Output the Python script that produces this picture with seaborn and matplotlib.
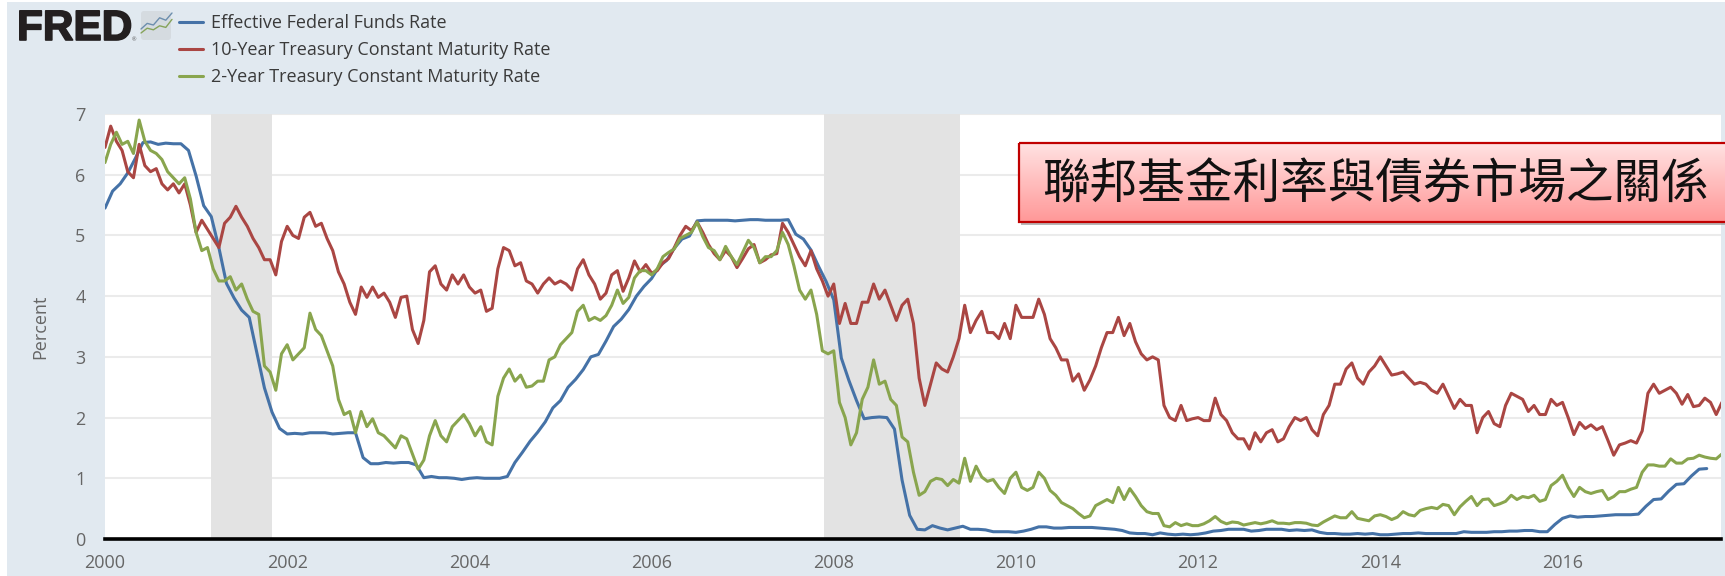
"""FRED chart: federal funds rate against 2-year and 10-year treasury yields."""

import matplotlib
matplotlib.use("Agg")
import matplotlib.patheffects as pe
import matplotlib.pyplot as plt
import numpy as np
import pandas as pd
import seaborn as sns
from matplotlib.patches import FancyBboxPatch, Rectangle

# monthly readings from Jan 2000
FED_FUNDS = [
    5.45, 5.73, 5.85, 6.03, 6.27, 6.53, 6.54, 6.50, 6.52, 6.51, 6.51, 6.40,
    5.98, 5.49, 5.31, 4.80, 4.21, 3.97, 3.77, 3.65, 3.07, 2.49, 2.09, 1.82,
    1.73, 1.74, 1.73, 1.75, 1.75, 1.75, 1.73, 1.74, 1.75, 1.75, 1.34, 1.24,
    1.24, 1.26, 1.25, 1.26, 1.26, 1.22, 1.01, 1.03, 1.01, 1.01, 1.00, 0.98,
    1.00, 1.01, 1.00, 1.00, 1.00, 1.03, 1.26, 1.43, 1.61, 1.76, 1.93, 2.16,
    2.28, 2.50, 2.63, 2.79, 3.00, 3.04, 3.26, 3.50, 3.62, 3.78, 4.00, 4.16,
    4.29, 4.49, 4.59, 4.79, 4.94, 4.99, 5.24, 5.25, 5.25, 5.25, 5.25, 5.24,
    5.25, 5.26, 5.26, 5.25, 5.25, 5.25, 5.26, 5.02, 4.94, 4.76, 4.49, 4.24,
    3.94, 2.98, 2.61, 2.28, 1.98, 2.00, 2.01, 2.00, 1.81, 0.97, 0.39, 0.16,
    0.15, 0.22, 0.18, 0.15, 0.18, 0.21, 0.16, 0.16, 0.15, 0.12, 0.12, 0.12,
    0.11, 0.13, 0.16, 0.20, 0.20, 0.18, 0.18, 0.19, 0.19, 0.19, 0.19, 0.18,
    0.17, 0.16, 0.14, 0.10, 0.09, 0.09, 0.07, 0.10, 0.08, 0.07, 0.08, 0.07,
    0.08, 0.10, 0.13, 0.14, 0.16, 0.16, 0.16, 0.13, 0.14, 0.16, 0.16, 0.16,
    0.14, 0.15, 0.14, 0.15, 0.11, 0.09, 0.09, 0.08, 0.08, 0.09, 0.08, 0.09,
    0.07, 0.07, 0.08, 0.09, 0.09, 0.10, 0.09, 0.09, 0.09, 0.09, 0.09, 0.12,
    0.11, 0.11, 0.11, 0.12, 0.12, 0.13, 0.13, 0.14, 0.14, 0.12, 0.12, 0.24,
    0.34, 0.38, 0.36, 0.37, 0.37, 0.38, 0.39, 0.40, 0.40, 0.40, 0.41, 0.54,
    0.65, 0.66, 0.79, 0.90, 0.91, 1.04, 1.15, 1.16,
]

# sixteen readings per year from Jan 2000
TREASURY_10Y = [
    6.45, 6.80, 6.55, 6.40, 6.05, 5.95, 6.50, 6.15, 6.05, 6.10, 5.85, 5.75, 5.85, 5.70, 5.85, 5.50,
    5.05, 5.25, 5.10, 4.95, 4.80, 5.20, 5.30, 5.48, 5.30, 5.15, 4.95, 4.80, 4.60, 4.60, 4.35, 4.90,
    5.15, 5.00, 4.95, 5.30, 5.38, 5.15, 5.20, 4.95, 4.75, 4.40, 4.20, 3.90, 3.70, 4.15, 3.98, 4.15,
    3.98, 4.05, 3.90, 3.65, 3.98, 4.00, 3.45, 3.22, 3.60, 4.40, 4.50, 4.20, 4.10, 4.35, 4.20, 4.35,
    4.15, 4.05, 4.10, 3.75, 3.80, 4.45, 4.80, 4.75, 4.50, 4.55, 4.25, 4.20, 4.05, 4.20, 4.30, 4.20,
    4.25, 4.20, 4.10, 4.45, 4.60, 4.35, 4.20, 3.95, 4.05, 4.35, 4.42, 4.08, 4.30, 4.58, 4.40, 4.52,
    4.38, 4.42, 4.55, 4.62, 4.80, 5.00, 5.15, 5.08, 5.22, 5.05, 4.85, 4.70, 4.60, 4.75, 4.65, 4.47,
    4.62, 4.78, 4.85, 4.55, 4.60, 4.68, 4.70, 5.20, 5.05, 4.85, 4.65, 4.50, 4.75, 4.45, 4.25, 4.00,
    4.20, 3.55, 3.88, 3.55, 3.55, 3.90, 3.90, 4.20, 3.95, 4.10, 3.85, 3.60, 3.85, 3.95, 3.55, 2.65,
    2.20, 2.55, 2.90, 2.80, 2.75, 3.00, 3.30, 3.85, 3.40, 3.60, 3.75, 3.40, 3.40, 3.30, 3.55, 3.30,
    3.85, 3.65, 3.65, 3.65, 3.95, 3.70, 3.30, 3.15, 2.95, 2.95, 2.60, 2.72, 2.45, 2.62, 2.85, 3.15,
    3.40, 3.40, 3.65, 3.35, 3.55, 3.25, 3.05, 2.95, 3.00, 2.95, 2.20, 2.00, 1.95, 2.20, 1.95, 1.98,
    2.00, 1.95, 1.95, 2.32, 2.05, 1.95, 1.75, 1.65, 1.65, 1.48, 1.75, 1.60, 1.75, 1.80, 1.60, 1.65,
    1.85, 2.00, 1.95, 2.00, 1.80, 1.70, 2.05, 2.20, 2.55, 2.55, 2.80, 2.90, 2.65, 2.55, 2.75, 2.85,
    3.00, 2.85, 2.70, 2.72, 2.75, 2.65, 2.55, 2.58, 2.55, 2.45, 2.40, 2.55, 2.35, 2.15, 2.30, 2.20,
    2.20, 1.75, 2.00, 2.10, 1.90, 1.85, 2.20, 2.40, 2.35, 2.30, 2.10, 2.20, 2.05, 2.05, 2.30, 2.20,
    2.25, 2.00, 1.72, 1.92, 1.82, 1.88, 1.80, 1.85, 1.62, 1.38, 1.55, 1.58, 1.62, 1.58, 1.78, 2.40,
    2.55, 2.40, 2.45, 2.50, 2.40, 2.22, 2.38, 2.18, 2.20, 2.32, 2.25, 2.05, 2.25,
]

TREASURY_2Y = [
    6.20, 6.50, 6.70, 6.50, 6.55, 6.35, 6.90, 6.55, 6.40, 6.35, 6.25, 6.05, 5.95, 5.85, 5.95, 5.60,
    5.05, 4.75, 4.80, 4.45, 4.25, 4.25, 4.32, 4.10, 4.20, 3.95, 3.75, 3.70, 2.85, 2.75, 2.45, 3.05,
    3.20, 2.95, 3.05, 3.15, 3.72, 3.45, 3.35, 3.10, 2.85, 2.30, 2.05, 2.10, 1.75, 2.10, 1.85, 1.98,
    1.75, 1.70, 1.60, 1.50, 1.70, 1.65, 1.40, 1.15, 1.30, 1.70, 1.95, 1.70, 1.60, 1.85, 1.95, 2.05,
    1.90, 1.70, 1.85, 1.60, 1.55, 2.35, 2.65, 2.80, 2.60, 2.70, 2.50, 2.52, 2.60, 2.60, 2.95, 3.00,
    3.20, 3.30, 3.40, 3.75, 3.85, 3.60, 3.65, 3.60, 3.68, 3.85, 4.10, 3.88, 3.98, 4.30, 4.42, 4.42,
    4.35, 4.45, 4.65, 4.72, 4.78, 4.95, 5.00, 5.05, 5.22, 4.98, 4.80, 4.75, 4.60, 4.82, 4.65, 4.52,
    4.72, 4.92, 4.80, 4.55, 4.65, 4.65, 4.75, 5.05, 4.85, 4.50, 4.10, 3.95, 4.10, 3.70, 3.10, 3.05,
    3.10, 2.25, 2.00, 1.55, 1.75, 2.30, 2.50, 2.95, 2.55, 2.60, 2.30, 2.20, 1.68, 1.60, 1.10, 0.72,
    0.78, 0.95, 1.00, 0.98, 0.88, 0.98, 0.92, 1.33, 0.95, 1.20, 1.02, 0.95, 0.98, 0.85, 0.75, 1.00,
    1.10, 0.85, 0.80, 0.85, 1.10, 1.00, 0.80, 0.72, 0.60, 0.55, 0.50, 0.42, 0.35, 0.38, 0.55, 0.60,
    0.65, 0.60, 0.85, 0.65, 0.83, 0.70, 0.55, 0.45, 0.42, 0.42, 0.22, 0.20, 0.27, 0.22, 0.25, 0.22,
    0.22, 0.25, 0.30, 0.37, 0.29, 0.25, 0.28, 0.27, 0.23, 0.25, 0.27, 0.25, 0.27, 0.30, 0.26, 0.26,
    0.25, 0.27, 0.27, 0.26, 0.23, 0.22, 0.28, 0.33, 0.38, 0.35, 0.35, 0.45, 0.34, 0.32, 0.30, 0.38,
    0.40, 0.37, 0.32, 0.36, 0.45, 0.40, 0.38, 0.47, 0.50, 0.52, 0.50, 0.57, 0.55, 0.40, 0.53, 0.62,
    0.70, 0.55, 0.65, 0.66, 0.55, 0.58, 0.62, 0.72, 0.65, 0.70, 0.68, 0.72, 0.62, 0.65, 0.88, 0.95,
    1.05, 0.85, 0.70, 0.85, 0.78, 0.75, 0.78, 0.80, 0.65, 0.70, 0.78, 0.78, 0.82, 0.85, 1.10, 1.22,
    1.22, 1.20, 1.20, 1.32, 1.25, 1.25, 1.32, 1.33, 1.38, 1.35, 1.33, 1.32, 1.40,
]

SERIES_NAMES = [
    "Effective Federal Funds Rate",
    "10-Year Treasury Constant Maturity Rate",
    "2-Year Treasury Constant Maturity Rate",
]
RECESSIONS = [(2001.16, 2001.83), (2007.89, 2009.39)]
X_TICKS = [2000, 2002, 2004, 2006, 2008, 2010, 2012, 2014, 2016]
Y_TICKS = [0, 1, 2, 3, 4, 5, 6, 7]
CALLOUT = "聯邦基金利率與債券市場之關係"
ICON_BLUE = [1.0, 1.7, 1.5, 2.4, 2.1, 3.0]
ICON_GREEN = [0.5, 1.1, 0.9, 1.4, 1.2, 2.2]

COLORS = dict(zip(SERIES_NAMES, ["#4572A7", "#AA4643", "#89A54E"]))
BG = "#E1E9F0"
W, H = 1725, 576
LEFT, RIGHT, TOP, BOTTOM = 105, 1721, 114, 539


def build_table() -> pd.DataFrame:
    parts = []
    for name, values, per_year in zip(SERIES_NAMES, [FED_FUNDS, TREASURY_10Y, TREASURY_2Y], [12, 16, 16]):
        parts.append(pd.DataFrame({
            "year": 2000 + np.arange(len(values)) / per_year,
            "rate": values,
            "series": name,
        }))
    return pd.concat(parts, ignore_index=True)


def draw_header(over) -> None:
    logo = over.text(17, 40, "FRED", fontsize=30.5, fontweight="bold", family="Liberation Sans", color="#231F20", va="baseline")
    logo.set_path_effects([pe.withStroke(linewidth=1.2, foreground="#231F20")])
    over.text(132, 41, "®", fontsize=4, color="#555555", va="baseline")
    icon = FancyBboxPatch((141, 11), 30, 29, boxstyle="round,pad=0,rounding_size=3", fc="#D5DBE0", ec="none")
    over.add_patch(icon)
    xs = np.linspace(141, 172, len(ICON_BLUE))
    over.plot(xs, 37 - np.array(ICON_BLUE) * 8, color="#6C8EAD", lw=1)
    over.plot(xs, 37 - np.array(ICON_GREEN) * 8, color="#86A35A", lw=1)


def draw_callout(over) -> None:
    x0, x1, y0, y1 = 1019, 1735, 143, 222
    over.add_patch(Rectangle((x0 + 2, y0 + 3), x1 - x0, y1 - y0, fc="#8A8A8A", ec="none", alpha=0.6, zorder=3))
    gradient = np.linspace(0, 1, 80)[:, None]
    cmap = sns.blend_palette(["#FFE2E2", "#FF9898"], as_cmap=True)
    over.imshow(gradient, extent=(x0, x1, y1, y0), cmap=cmap, aspect="auto", zorder=4)
    over.add_patch(Rectangle((x0, y0), x1 - x0, y1 - y0, fc="none", ec="#C00000", lw=1.6, zorder=5))
    over.text(1376, 185, CALLOUT, fontsize=34.3, color="#111111", ha="center", va="center", zorder=6,
              family=["Noto Sans CJK TC", "DejaVu Sans"])


def main() -> None:
    sns.set_theme(style="whitegrid", rc={
        "figure.facecolor": "white",
        "axes.facecolor": "white",
        "grid.color": "#EBEBEB",
        "grid.linewidth": 1.5,
    })
    plt.rcParams["font.family"] = ["Open Sans", "DejaVu Sans"]
    table = build_table()

    fig = plt.figure(figsize=(W / 100, H / 100), dpi=100)
    fig.add_artist(Rectangle((7 / W, 0), 1 - 7 / W, 1 - 2 / H, transform=fig.transFigure, fc=BG, ec="none", zorder=-5))
    ax = fig.add_axes([LEFT / W, 1 - BOTTOM / H, (RIGHT - LEFT) / W, (BOTTOM - TOP) / H])
    ax.set_axisbelow(True)

    for start, end in RECESSIONS:
        ax.axvspan(start, end, color="#E3E3E3", lw=0, zorder=1)
    sns.lineplot(data=table, x="year", y="rate", hue="series", hue_order=SERIES_NAMES, palette=COLORS,
                 estimator=None, sort=False, linewidth=2.2, ax=ax, zorder=3)

    ax.set_xlim(2000, 2017.74)
    ax.set_ylim(0, 7)
    ax.set_xticks(X_TICKS)
    ax.set_yticks(Y_TICKS)
    ax.grid(axis="x", visible=False)
    ax.tick_params(axis="x", length=10, width=1, color="#C0D0E0", labelsize=13, labelcolor="#666666", pad=1)
    ax.tick_params(axis="y", length=0, labelsize=13, labelcolor="#666666", pad=14)
    ax.set_xlabel("")
    ax.set_ylabel("Percent", fontsize=13, color="#666666", labelpad=19)
    for side, spine in ax.spines.items():
        spine.set_visible(side == "bottom")
    ax.spines["bottom"].set_color("black")
    ax.spines["bottom"].set_linewidth(2.6)
    ax.spines["bottom"].set_zorder(6)

    handles, labels = ax.get_legend_handles_labels()
    ax.get_legend().remove()
    legend = fig.legend(handles, labels, loc="upper left", bbox_to_anchor=(179 / W, 1 - 14 / H), frameon=False,
                        fontsize=13, handlelength=1.33, handletextpad=0.45, labelspacing=0.5, borderpad=0, borderaxespad=0)
    for text in legend.get_texts():
        text.set_color("#3A3A3A")

    over = fig.add_axes([0, 0, 1, 1], facecolor="none")
    over.set_axis_off()
    draw_callout(over)
    draw_header(over)
    over.set_xlim(0, W)
    over.set_ylim(H, 0)

    fig.savefig("out.png", dpi=100)
    plt.close(fig)


if __name__ == "__main__":
    main()
